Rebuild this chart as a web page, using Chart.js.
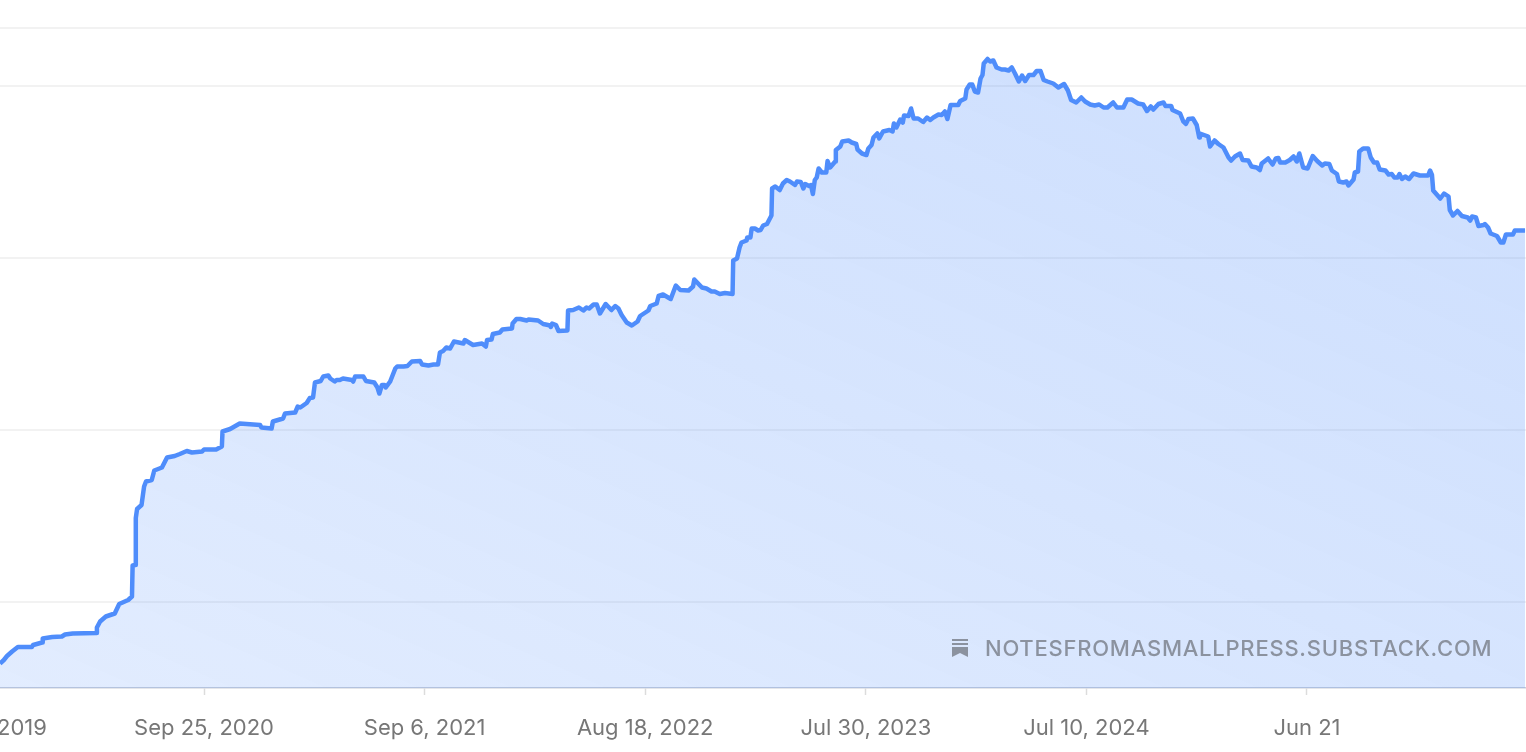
<!DOCTYPE html>
<html>
<head>
<meta charset="utf-8">
<script src="https://cdn.jsdelivr.net/npm/chart.js@4"></script>
<style>
    html, body { margin: 0; padding: 0; background: #fff; overflow: hidden; }
    #wrap { position: relative; width: 1526px; height: 752px; }
    #watermark {
        position: absolute; left: 951px; top: 636px; height: 24px;
        display: flex; align-items: center;
        font: 500 22px Inter, sans-serif; letter-spacing: 0.76px; color: #8b929f;
        white-space: nowrap;
    }
    #watermark svg { margin-right: 16px; }
</style>
</head>
<body>
<div id="wrap">
    <canvas id="subsChart" width="1526" height="752"></canvas>
    <div id="watermark">
        <svg width="18" height="20" viewBox="0 0 18 20"><path fill="#8b929f" d="M1 1h16v2H1zM1 5h16v2H1zM1 9h16v10l-8-4-8 4z"/></svg>
        <span>NOTESFROMASMALLPRESS.SUBSTACK.COM</span>
    </div>
</div>
<script>
// x = days since Oct 15, 2019 (first tick), y = relative height, the picture has no y labels
var days = [
    26,32,37,45,54,76,78,92,93,108,123,128,
    140,177,178,183,192,206,213,227,233,234,238,239,
    241,248,252,255,264,268,280,288,300,308,319,327,
    343,346,365,374,375,387,402,434,436,452,454,470,
    473,489,493,497,507,512,517,520,529,533,541,544,
    551,554,559,564,578,580,583,596,600,613,618,621,
    625,629,631,638,646,649,659,665,672,685,688,698,
    706,713,716,721,726,732,738,753,755,768,782,788,
    790,797,799,810,814,829,830,836,842,852,855,870,
    878,889,890,892,898,902,916,917,925,934,941,946,
    950,957,962,967,976,985,991,996,1001,1009,1017,1026,
    1030,1043,1046,1056,1059,1066,1078,1086,1093,1106,1113,1115,
    1121,1127,1134,1142,1147,1155,1163,1175,1176,1182,1186,1189,
    1197,1198,1203,1205,1210,1215,1219,1223,1229,1236,1237,1242,
    1249,1254,1260,1265,1273,1276,1282,1286,1289,1295,1298,1301,
    1304,1307,1310,1315,1322,1324,1328,1336,1337,1344,1347,1357,
    1362,1369,1371,1378,1385,1388,1393,1396,1402,1405,1411,1421,
    1426,1428,1432,1438,1442,1444,1451,1455,1459,1466,1474,1480,
    1485,1490,1498,1503,1508,1512,1517,1529,1532,1540,1542,1547,
    1551,1555,1560,1564,1567,1569,1575,1579,1584,1589,1597,1602,
    1608,1613,1618,1624,1629,1634,1640,1647,1652,1658,1663,1669,
    1678,1686,1695,1701,1706,1714,1722,1728,1736,1743,1750,1757,
    1763,1772,1778,1788,1794,1801,1811,1819,1825,1831,1835,1843,
    1851,1854,1863,1865,1877,1882,1886,1890,1897,1903,1907,1908,
    1921,1924,1931,1937,1945,1953,1957,1963,1971,1975,1984,1989,
    1997,2002,2005,2015,2022,2027,2031,2034,2042,2049,2055,2060,
    2064,2070,2077,2085,2092,2100,2104,2111,2115,2123,2126,2133,
    2138,2141,2149,2151,2156,2158,2164,2172,2176,2181,2186,2190,
    2199,2204,2209,2213,2218,2221,2225,2230,2236,2243,2253,2266,
    2269,2272,2274,2285,2291,2298,2300,2305,2312,2319,2328,2332,
    2335,2341,2345,2353,2355,2360,2364,2374,2380,2384,2388,2399,
    2402,2418
];
var values = [
    49,56,64,73,82,82,86,91,99,102,103,107,
    109,110,121,133,143,149,168,176,183,245,246,340,
    358,366,403,413,416,435,441,461,464,468,474,471,
    473,477,477,483,513,518,529,526,521,519,533,539,
    549,551,563,561,570,580,581,611,614,623,625,619,
    613,616,616,619,616,613,623,623,614,611,601,589,
    606,606,601,613,639,643,643,644,653,654,647,645,
    647,647,671,674,681,679,693,689,696,686,689,683,
    696,697,708,711,717,719,729,738,738,735,737,735,
    728,725,722,729,726,714,715,755,756,761,755,761,
    759,767,767,749,768,756,764,759,746,731,725,733,
    744,755,764,769,784,787,778,805,796,795,803,817,
    809,801,799,793,793,788,790,788,855,859,881,891,
    895,901,901,919,919,915,916,925,928,945,999,1003,
    996,1009,1016,1013,1006,1013,1012,999,1008,1004,1006,988,
    1016,1021,1039,1031,1031,1054,1041,1053,1076,1083,1093,1095,
    1091,1088,1077,1069,1066,1079,1086,1101,1109,1099,1113,1116,
    1113,1129,1121,1137,1131,1145,1144,1159,1139,1139,1132,1141,
    1136,1141,1147,1146,1153,1138,1166,1166,1174,1179,1197,1207,
    1207,1193,1191,1219,1226,1249,1258,1253,1255,1241,1237,1237,
    1235,1241,1229,1213,1225,1214,1226,1226,1234,1234,1216,1213,
    1209,1201,1208,1195,1176,1171,1181,1173,1167,1165,1167,1161,
    1161,1171,1161,1161,1177,1177,1169,1167,1154,1163,1157,1168,
    1171,1164,1164,1156,1149,1133,1128,1138,1139,1126,1101,1109,
    1103,1083,1095,1088,1081,1061,1055,1063,1069,1056,1055,1043,
    1041,1036,1049,1059,1047,1059,1060,1051,1051,1056,1063,1053,
    1069,1041,1039,1064,1054,1045,1049,1048,1035,1028,1013,1011,
    1013,1005,1017,1031,1033,1073,1079,1079,1061,1051,1051,1037,
    1035,1027,1028,1021,1021,1028,1018,1023,1018,1029,1025,1025,
    1035,1026,995,979,989,983,956,945,954,944,941,935,
    943,941,924,926,928,921,909,904,891,891,907,907,
    915,915
];
var tickDays = [0, 346, 692, 1038, 1384, 1730, 2076];
var tickLabels = ['Oct 15, 2019', 'Sep 25, 2020', 'Sep 6, 2021', 'Aug 18, 2022', 'Jul 30, 2023', 'Jul 10, 2024', 'Jun 21'];
var gridValues = [172, 516, 860, 1204, 1320];

var ctx = document.getElementById('subsChart').getContext('2d');

var chart = new Chart(ctx, {
    type: 'line',
    data: {
        datasets: [{
            data: days.map(function(d, i) { return { x: d, y: values[i] }; }),
            borderColor: '#4f8dfb',
            borderWidth: 4.5,
            borderJoinStyle: 'round',
            pointRadius: 0,
            tension: 0,
            fill: 'origin',
            backgroundColor: function(context) {
                var area = context.chart.chartArea;
                if (!area) return 'rgba(79,141,251,0.2)';
                // darker towards the top right, mostly by height
                var g = context.chart.ctx.createLinearGradient(area.left, area.bottom, area.left + 484, area.bottom - 1100);
                g.addColorStop(0, 'rgba(79,141,251,0.165)');
                g.addColorStop(1, 'rgba(79,141,251,0.29)');
                return g;
            }
        }]
    },
    options: {
        responsive: false,
        animation: false,
        devicePixelRatio: 1,
        layout: { padding: { top: 28 } },
        plugins: { legend: { display: false }, tooltip: { enabled: false } },
        scales: {
            x: {
                type: 'linear',
                min: 26,
                max: 2419.5,
                afterBuildTicks: function(scale) {
                    scale.ticks = tickDays.map(function(v) { return { value: v }; });
                },
                afterFit: function(scale) {
                    // keep the plot full width, the first label runs off the left edge
                    scale.paddingLeft = 0;
                    scale.paddingRight = 0;
                    scale.height = 64;
                },
                grid: { drawOnChartArea: false, drawTicks: true, tickLength: 7, tickWidth: 1.5, tickColor: '#dcdcdc' },
                border: { display: true, color: '#c9ced8', width: 1.5 },
                ticks: {
                    autoSkip: false,
                    maxRotation: 0,
                    padding: 20,
                    color: '#777777',
                    font: { family: 'Inter', size: 22 },
                    callback: function(v) { return tickLabels[tickDays.indexOf(v)]; }
                }
            },
            y: {
                min: 0,
                max: 1320,
                afterBuildTicks: function(scale) {
                    scale.ticks = gridValues.map(function(v) { return { value: v }; });
                },
                afterFit: function(scale) { scale.width = 0; },
                grid: { color: '#f2f2f2', lineWidth: 2, drawTicks: false },
                border: { display: false },
                ticks: { display: false }
            }
        }
    }
});
</script>
</body>
</html>
